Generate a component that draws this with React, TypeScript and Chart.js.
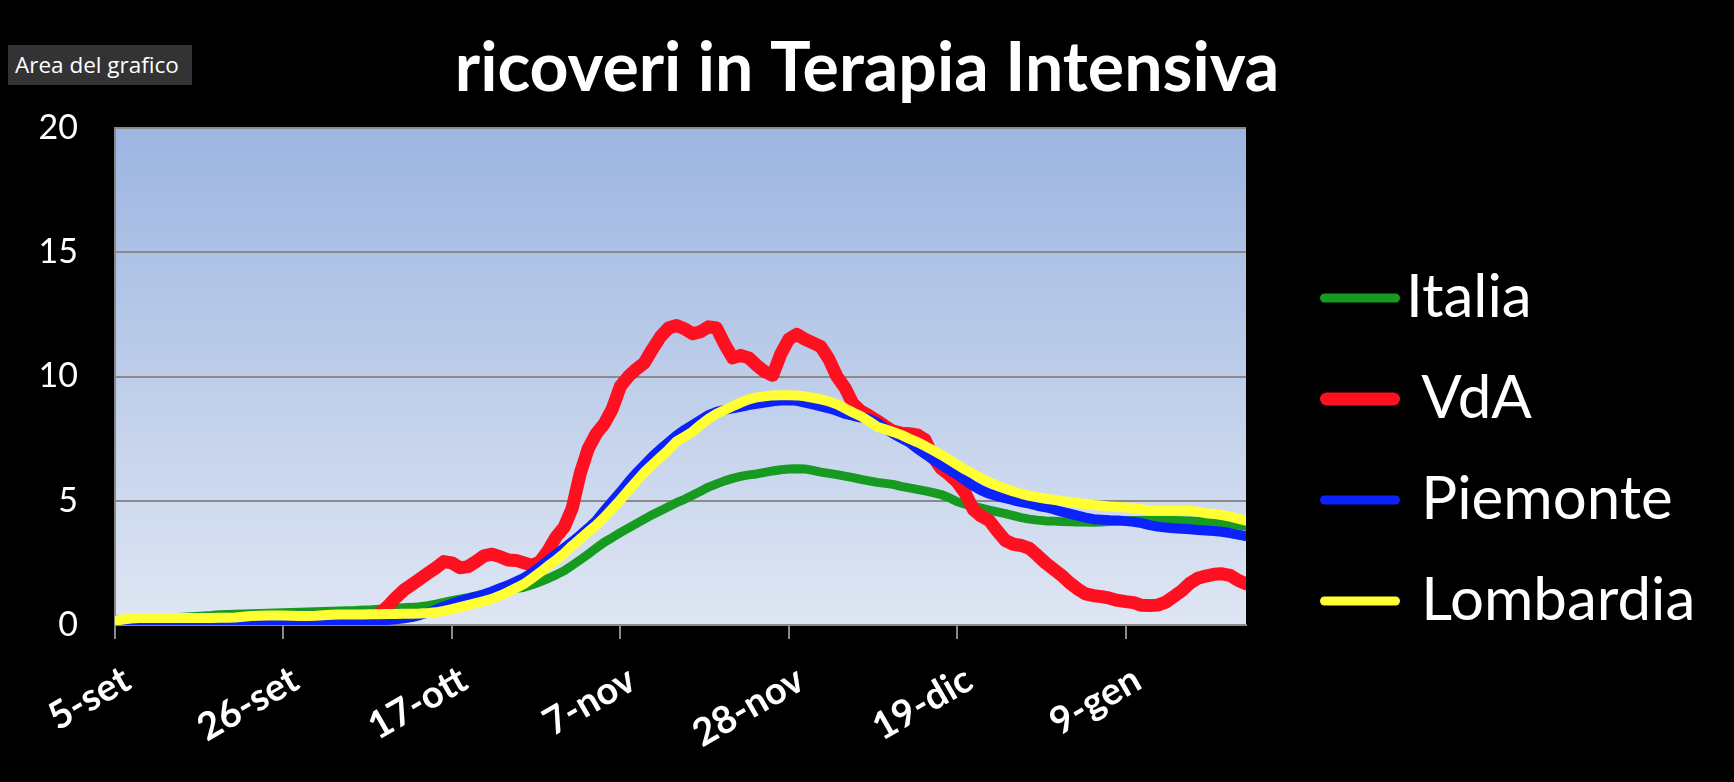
import React, { useEffect, useRef } from 'react';
import { Chart, registerables } from 'chart.js';

Chart.register(...registerables);

// ---------- data ----------
const START_UTC = Date.UTC(2020, 8, 5); // 5 settembre 2020
const N_DAYS = 142; // 5-set .. 24-gen
const MONTHS = ['gen', 'feb', 'mar', 'apr', 'mag', 'giu', 'lug', 'ago', 'set', 'ott', 'nov', 'dic'];
const CATEGORIES: string[] = Array.from({ length: N_DAYS }, (_, i) => {
  const d = new Date(START_UTC + i * 86400000);
  return `${d.getUTCDate()}-${MONTHS[d.getUTCMonth()]}`;
});
const TICK_LABELS = ['5-set', '26-set', '17-ott', '7-nov', '28-nov', '19-dic', '9-gen'];
const TICK_EVERY = 21;
const Y_TICKS = [0, 5, 10, 15, 20];

const TITLE = 'ricoveri in Terapia Intensiva';
const SERIES_NAMES = ['Italia', 'VdA', 'Piemonte', 'Lombardia'];

const ITALIA = [
  0.20, 0.21, 0.22, 0.23, 0.25, 0.26, 0.27,
  0.29, 0.30, 0.32, 0.34, 0.36, 0.38, 0.41,
  0.42, 0.43, 0.44, 0.45, 0.46, 0.47, 0.48,
  0.49, 0.50, 0.51, 0.52, 0.53, 0.54, 0.55,
  0.56, 0.57, 0.58, 0.60, 0.61, 0.63, 0.65,
  0.67, 0.69, 0.71, 0.74, 0.78, 0.84, 0.91,
  0.98, 1.04, 1.10, 1.17, 1.24, 1.31, 1.37,
  1.42, 1.47, 1.52, 1.62, 1.74, 1.87, 2.02,
  2.18, 2.40, 2.62, 2.85, 3.10, 3.33, 3.52,
  3.72, 3.90, 4.08, 4.26, 4.44, 4.60, 4.76,
  4.92, 5.06, 5.22, 5.38, 5.55, 5.68, 5.80,
  5.90, 5.98, 6.04, 6.08, 6.14, 6.20, 6.25,
  6.28, 6.29, 6.28, 6.22, 6.15, 6.10, 6.05,
  5.99, 5.93, 5.86, 5.80, 5.74, 5.70, 5.66,
  5.58, 5.52, 5.46, 5.40, 5.33, 5.25, 5.12,
  4.96, 4.86, 4.78, 4.70, 4.62, 4.55, 4.48,
  4.40, 4.32, 4.26, 4.22, 4.19, 4.18, 4.16,
  4.15, 4.14, 4.14, 4.13, 4.14, 4.16, 4.18,
  4.20, 4.21, 4.21, 4.21, 4.21, 4.21, 4.21,
  4.20, 4.19, 4.17, 4.14, 4.12, 4.09, 4.06,
  4.02, 3.98,
];

const VDA = [
  0, 0, 0, 0, 0, 0, 0,
  0, 0, 0, 0, 0, 0, 0,
  0, 0, 0, 0, 0, 0, 0,
  0, 0, 0, 0, 0, 0, 0,
  0, 0, 0, 0.02, 0.15, 0.45, 0.75,
  1.10, 1.40, 1.62, 1.85, 2.08, 2.30, 2.55,
  2.50, 2.30, 2.35, 2.55, 2.78, 2.85, 2.75,
  2.62, 2.60, 2.50, 2.40, 2.55, 3.00, 3.55,
  3.94, 4.70, 6.10, 7.10, 7.70, 8.10, 8.70,
  9.60, 10.00, 10.30, 10.55, 11.10, 11.60, 11.95,
  12.05, 11.92, 11.72, 11.80, 12.00, 11.95, 11.30,
  10.75, 10.85, 10.75, 10.45, 10.20, 10.05, 10.90,
  11.50, 11.70, 11.50, 11.35, 11.20, 10.70, 10.00,
  9.55, 8.90, 8.60, 8.42, 8.22, 8.00, 7.80,
  7.72, 7.70, 7.65, 7.45, 6.75, 6.30, 6.05,
  5.75, 5.30, 4.65, 4.38, 4.20, 3.78, 3.40,
  3.25, 3.20, 3.08, 2.80, 2.50, 2.25, 2.00,
  1.70, 1.45, 1.25, 1.18, 1.14, 1.08, 0.99,
  0.94, 0.90, 0.79, 0.78, 0.80, 0.92, 1.15,
  1.38, 1.68, 1.88, 1.97, 2.04, 2.06, 2.00,
  1.80, 1.66,
];

const PIEMONTE = [
  0.05, 0.06, 0.07, 0.08, 0.09, 0.10, 0.10,
  0.10, 0.10, 0.10, 0.11, 0.11, 0.12, 0.12,
  0.12, 0.12, 0.10, 0.08, 0.07, 0.07, 0.07,
  0.08, 0.09, 0.09, 0.10, 0.10, 0.11, 0.12,
  0.12, 0.13, 0.14, 0.15, 0.16, 0.18, 0.20,
  0.23, 0.27, 0.32, 0.40, 0.50, 0.62, 0.75,
  0.86, 0.96, 1.05, 1.14, 1.24, 1.35, 1.48,
  1.60, 1.75, 1.90, 2.10, 2.35, 2.60, 2.85,
  3.10, 3.35, 3.62, 3.90, 4.20, 4.60, 4.98,
  5.35, 5.75, 6.12, 6.45, 6.78, 7.08, 7.35,
  7.62, 7.85, 8.05, 8.25, 8.45, 8.58, 8.66,
  8.72, 8.78, 8.85, 8.90, 8.95, 9.00, 9.03,
  9.04, 9.02, 8.95, 8.88, 8.80, 8.72, 8.62,
  8.50, 8.42, 8.35, 8.30, 8.15, 7.92, 7.70,
  7.52, 7.35, 7.10, 6.88, 6.65, 6.45, 6.25,
  6.05, 5.82, 5.60, 5.42, 5.28, 5.18, 5.10,
  5.02, 4.95, 4.88, 4.80, 4.74, 4.66, 4.56,
  4.48, 4.40, 4.32, 4.26, 4.24, 4.22, 4.21,
  4.18, 4.15, 4.10, 4.02, 3.96, 3.92, 3.89,
  3.87, 3.85, 3.82, 3.80, 3.78, 3.75, 3.70,
  3.64, 3.58,
];

const LOMBARDIA = [
  0.17, 0.22, 0.26, 0.28, 0.28, 0.28, 0.28,
  0.28, 0.28, 0.28, 0.28, 0.28, 0.28, 0.29,
  0.29, 0.30, 0.33, 0.36, 0.37, 0.38, 0.38,
  0.38, 0.37, 0.36, 0.36, 0.37, 0.39, 0.41,
  0.42, 0.42, 0.42, 0.42, 0.43, 0.43, 0.44,
  0.44, 0.45, 0.45, 0.46, 0.48, 0.51, 0.57,
  0.64, 0.72, 0.80, 0.88, 0.96, 1.05, 1.18,
  1.33, 1.49, 1.65, 1.88, 2.12, 2.38, 2.62,
  2.88, 3.19, 3.47, 3.75, 4.02, 4.33, 4.68,
  5.03, 5.42, 5.78, 6.15, 6.45, 6.75, 7.05,
  7.38, 7.58, 7.78, 8.05, 8.30, 8.50, 8.65,
  8.80, 8.95, 9.08, 9.16, 9.20, 9.24, 9.25,
  9.25, 9.24, 9.20, 9.14, 9.08, 9.00, 8.88,
  8.72, 8.55, 8.40, 8.20, 7.98, 7.88, 7.77,
  7.65, 7.50, 7.36, 7.20, 7.03, 6.85, 6.65,
  6.45, 6.25, 6.08, 5.90, 5.75, 5.60, 5.48,
  5.37, 5.28, 5.20, 5.14, 5.08, 5.04, 4.99,
  4.95, 4.91, 4.87, 4.83, 4.80, 4.77, 4.75,
  4.73, 4.70, 4.66, 4.62, 4.61, 4.61, 4.61,
  4.61, 4.60, 4.56, 4.50, 4.47, 4.42, 4.36,
  4.28, 4.20,
];

// ---------- styles ----------
const COLORS = ['#169A1F', '#FF1020', '#0B22FA', '#FFFF33'];
const LINE_WIDTHS = [9, 13, 10, 10];
const LEGEND_WIDTHS = [9, 13, 9, 9];
const DRAW_ORDER = [3, 2, 1, 0]; // later series on top, like the original
const GRID_GRAY = '#8a8a8a';
const FONT_FAMILY = 'Lato, "Open Sans", sans-serif';

const plotBackground = {
  id: 'plotBackground',
  beforeDraw(chart: any) {
    const { ctx, chartArea: a, width, height } = chart;
    ctx.save();
    ctx.fillStyle = '#000000';
    ctx.fillRect(0, 0, width, height);
    const g = ctx.createLinearGradient(0, a.top, 0, a.bottom);
    g.addColorStop(0, '#9cb5e1');
    g.addColorStop(1, '#dfe6f3');
    ctx.fillStyle = g;
    ctx.fillRect(a.left, a.top, a.right - a.left, a.bottom - a.top);
    ctx.restore();
  },
};

const sideLegend = {
  id: 'sideLegend',
  afterDraw(chart: any) {
    const { ctx, chartArea: a } = chart;
    ctx.save();
    ctx.font = `60px ${FONT_FAMILY}`;
    ctx.textAlign = 'left';
    ctx.textBaseline = 'alphabetic';
    chart.data.datasets.forEach((ds: any, i: number) => {
      const y = a.top + 170 + i * 101;
      const x0 = a.right + 74;
      const w = LEGEND_WIDTHS[i];
      ctx.strokeStyle = ds.borderColor;
      ctx.lineWidth = w;
      ctx.lineCap = 'round';
      ctx.beginPath();
      ctx.moveTo(x0 + w / 2, y);
      ctx.lineTo(x0 + 80 - w / 2, y);
      ctx.stroke();
      ctx.fillStyle = '#ffffff';
      const text = i === 0 ? ds.label : ' ' + ds.label;
      ctx.fillText(text, x0 + 86, y + 19);
    });
    ctx.restore();
  },
};

export default function App() {
  const canvasRef = useRef<HTMLCanvasElement | null>(null);

  useEffect(() => {
    let chart: Chart | null = null;
    let cancelled = false;
    const build = () => {
      if (cancelled || !canvasRef.current) return;
      const series = [ITALIA, VDA, PIEMONTE, LOMBARDIA];
      chart = new Chart(canvasRef.current, {
        type: 'line',
        data: {
          labels: CATEGORIES,
          datasets: series.map((values, i) => ({
            label: SERIES_NAMES[i],
            data: values,
            borderColor: COLORS[i],
            backgroundColor: COLORS[i],
            borderWidth: LINE_WIDTHS[i],
            pointRadius: 0,
            pointHoverRadius: 0,
            tension: 0,
            fill: false,
            borderCapStyle: 'round',
            borderJoinStyle: 'round',
            clip: 0,
            order: DRAW_ORDER[i],
            yAxisID: 'y',
          })),
        },
        options: {
          animation: false,
          responsive: true,
          maintainAspectRatio: false,
          devicePixelRatio: 1,
          layout: { padding: 0 },
          plugins: {
            legend: { display: false },
            tooltip: { enabled: false },
            title: {
              display: true,
              text: TITLE,
              color: '#ffffff',
              font: { family: FONT_FAMILY, size: 68, weight: 'bold', lineHeight: 1.2 },
              padding: { top: 28, bottom: 18.4 },
            },
          },
          scales: {
            x: {
              type: 'category',
              offset: false,
              afterBuildTicks: (scale: any) => {
                scale.ticks = scale.ticks.filter((t: any) => t.value % TICK_EVERY === 0);
              },
              afterFit: (scale: any) => {
                scale.height = 157;
              },
              grid: {
                drawOnChartArea: false,
                drawTicks: true,
                tickLength: 14,
                color: GRID_GRAY,
                lineWidth: 2,
              },
              border: { display: true, color: GRID_GRAY, width: 2 },
              ticks: {
                autoSkip: false,
                minRotation: 30,
                maxRotation: 30,
                padding: 18,
                labelOffset: 12,
                color: '#ffffff',
                font: { family: FONT_FAMILY, size: 38, weight: 'bold' },
                callback: (_v: any, index: number) => TICK_LABELS[index] ?? '',
              },
            },
            y: {
              type: 'linear',
              position: 'left',
              min: Y_TICKS[0],
              max: Y_TICKS[Y_TICKS.length - 1],
              afterFit: (scale: any) => {
                scale.width = 115;
              },
              afterBuildTicks: (scale: any) => {
                scale.ticks = Y_TICKS.map((v) => ({ value: v }));
              },
              grid: {
                drawOnChartArea: true,
                drawTicks: false,
                color: GRID_GRAY,
                lineWidth: 2,
              },
              border: { display: true, color: GRID_GRAY, width: 2 },
              ticks: {
                padding: 37,
                color: '#ffffff',
                font: { family: FONT_FAMILY, size: 34 },
              },
            },
            // empty right-hand band that holds the legend area
            legendBand: {
              type: 'linear',
              position: 'right',
              display: true,
              min: 0,
              max: 1,
              afterFit: (scale: any) => {
                scale.width = 488;
              },
              grid: { display: false, drawTicks: false },
              border: { display: false },
              ticks: { display: false },
            },
          },
        },
        plugins: [plotBackground, sideLegend],
      } as any);
    };

    const fonts: any = (document as any).fonts;
    if (fonts && fonts.load) {
      Promise.all([
        fonts.load('60px Lato'),
        fonts.load('bold 68px Lato'),
        fonts.load('22px "Open Sans"'),
      ])
        .catch(() => undefined)
        .then(build);
    } else {
      build();
    }

    return () => {
      cancelled = true;
      if (chart) chart.destroy();
    };
  }, []);

  return (
    <div
      style={{
        position: 'fixed',
        left: 0,
        top: 0,
        width: 1734,
        height: 782,
        background: '#000000',
        overflow: 'hidden',
      }}
    >
      <canvas ref={canvasRef} style={{ display: 'block' }} />
      <div
        style={{
          position: 'absolute',
          left: 8,
          top: 45,
          width: 184,
          height: 40,
          background: '#333333',
          color: '#ffffff',
          fontFamily: '"Open Sans", sans-serif',
          fontSize: 22.5,
          lineHeight: '40px',
          paddingLeft: 7,
          boxSizing: 'border-box',
          whiteSpace: 'nowrap',
        }}
      >
        Area del grafico
      </div>
    </div>
  );
}
